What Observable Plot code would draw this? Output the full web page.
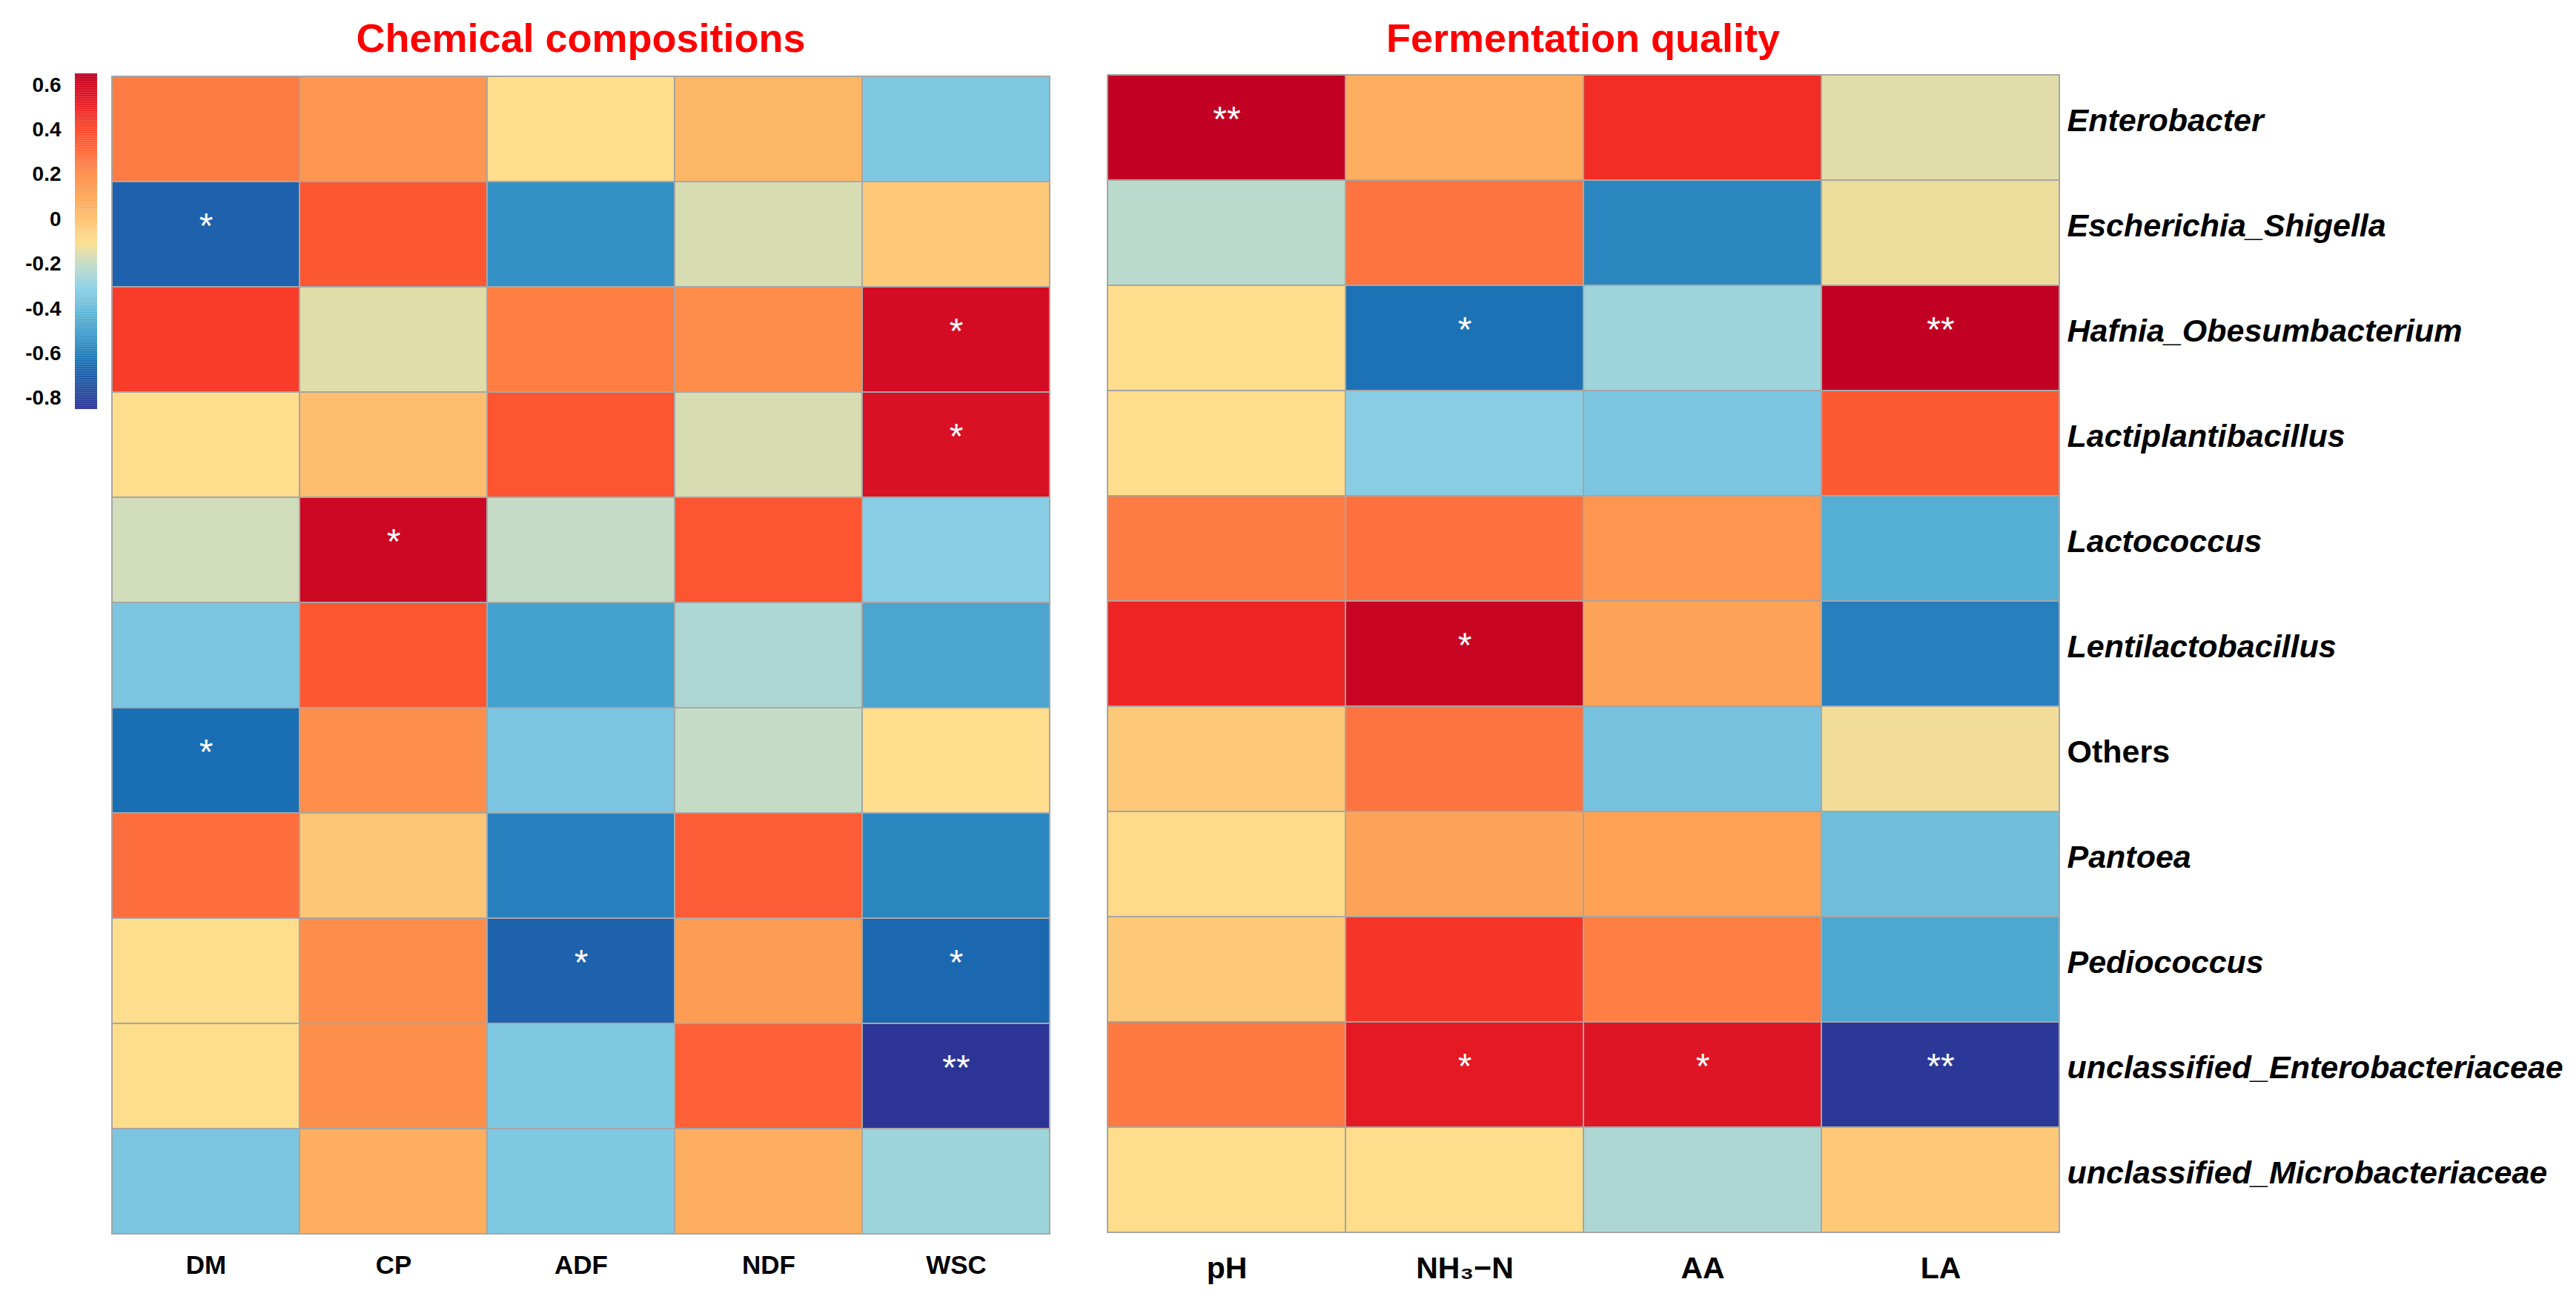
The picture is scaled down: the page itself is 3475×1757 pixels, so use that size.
<!DOCTYPE html>
<html>
<head>
<meta charset="utf-8">
<script src="https://cdn.jsdelivr.net/npm/d3@7"></script>
<script src="https://cdn.jsdelivr.net/npm/@observablehq/plot@0.6"></script>
<style>
  body { margin: 0; background: #ffffff; }
  #root { position: relative; width: 3475px; height: 1757px; overflow: hidden; font-family: "Liberation Sans", Arial, sans-serif; background: #ffffff; }
  .title { position: absolute; top: 24px; font-size: 54px; line-height: 54px; font-weight: bold; color: #ff0000; text-align: center; white-space: nowrap; font-family: "Liberation Sans", Arial, sans-serif; }
  .pl { position: absolute; top: 0; }
  .pl svg { font-family: "Liberation Sans", Arial, sans-serif; }
  g[aria-label$="tick label"] text { font-weight: bold; fill: #000; }
</style>
</head>
<body>
<div id="root"></div>
<script>
// ---------- data ----------
const genera = [
  "Enterobacter", "Escherichia_Shigella", "Hafnia_Obesumbacterium", "Lactiplantibacillus",
  "Lactococcus", "Lentilactobacillus", "Others", "Pantoea", "Pediococcus",
  "unclassified_Enterobacteriaceae", "unclassified_Microbacteriaceae"
];
const chemVars = ["DM", "CP", "ADF", "NDF", "WSC"];
const fermVars = ["pH", "NH\u2083\u2212N", "AA", "LA"];

// correlation values, rows follow genera, columns follow chemVars
const chemValues = [
  [ 0.25,  0.16, -0.10,  0.04, -0.35],
  [-0.69,  0.36, -0.55, -0.165, -0.03],
  [ 0.43, -0.15,  0.24,  0.20,  0.59],
  [-0.10,  0.01,  0.37, -0.165, 0.57],
  [-0.18,  0.61, -0.20,  0.37, -0.32],
  [-0.36,  0.36, -0.50, -0.24, -0.48],
  [-0.65,  0.19, -0.36, -0.20, -0.10],
  [ 0.29, -0.02, -0.60,  0.34, -0.58],
  [-0.10,  0.20, -0.69,  0.14, -0.67],
  [-0.10,  0.19, -0.35,  0.33, -0.85],
  [-0.36,  0.07, -0.35,  0.07, -0.27]
];
const chemSig = [
  ["", "", "", "", ""],
  ["*", "", "", "", ""],
  ["", "", "", "", "*"],
  ["", "", "", "", "*"],
  ["", "*", "", "", ""],
  ["", "", "", "", ""],
  ["*", "", "", "", ""],
  ["", "", "", "", ""],
  ["", "", "*", "", "*"],
  ["", "", "", "", "**"],
  ["", "", "", "", ""]
];
// rows follow genera, columns follow fermVars
const fermValues = [
  [ 0.65,  0.07,  0.47, -0.15],
  [-0.22,  0.27, -0.58, -0.13],
  [-0.10, -0.64, -0.27,  0.65],
  [-0.10, -0.32, -0.36,  0.35],
  [ 0.25,  0.28,  0.16, -0.45],
  [ 0.49,  0.63,  0.11, -0.60],
  [-0.03,  0.27, -0.37, -0.12],
  [-0.09,  0.11,  0.12, -0.39],
  [-0.03,  0.45,  0.24, -0.47],
  [ 0.26,  0.53,  0.55, -0.84],
  [-0.10, -0.10, -0.24, -0.03]
];
const fermSig = [
  ["**", "", "", ""],
  ["", "", "", ""],
  ["", "*", "", "**"],
  ["", "", "", ""],
  ["", "", "", ""],
  ["", "*", "", ""],
  ["", "", "", ""],
  ["", "", "", ""],
  ["", "", "", ""],
  ["", "*", "*", "**"],
  ["", "", "", ""]
];
const legendTicks = [0.6, 0.4, 0.2, 0, -0.2, -0.4, -0.6, -0.8];
const colorStops = [-0.85, -0.75, -0.65, -0.55, -0.45, -0.35, -0.3, -0.2, -0.1, 0.0, 0.1, 0.2, 0.3, 0.4, 0.5, 0.6, 0.65];
const colorRange = ["#2c3596", "#2450a2", "#1a6eb4", "#3391c5", "#55aed3", "#7fc8e2", "#8ed0e6", "#c4dcc6",
                    "#fedd8c", "#fdc070", "#fda658", "#fe8c4a", "#fe6a3c", "#fc4a2c", "#ec2024", "#d00a24", "#c20023"];

// ---------- build ----------
const colorOpts = {type: "linear", domain: colorStops, range: colorRange, interpolate: d3.interpolateRgb, clamp: true};
const chemData = genera.flatMap((g, i) => chemVars.map((v, j) => ({genus: g, v, value: chemValues[i][j], sig: chemSig[i][j]})));
const fermData = genera.flatMap((g, i) => fermVars.map((v, j) => ({genus: g, v, value: fermValues[i][j], sig: fermSig[i][j]})));

const root = document.getElementById("root");
function place(el, left) {
  const d = document.createElement("div");
  d.className = "pl";
  d.style.left = left + "px";
  d.appendChild(el);
  root.appendChild(d);
}

const starOpts = {text: "sig", fill: "white", fontSize: 48, fontWeight: "normal", dy: -11};

const leftChart = Plot.plot({
  width: 1450, height: 1757,
  marginLeft: 151, marginRight: 34, marginTop: 99, marginBottom: 88,
  style: {background: "transparent"},
  x: {domain: chemVars, padding: 0, label: null},
  y: {domain: genera, padding: 0, label: null, axis: null},
  color: colorOpts,
  marks: [
    Plot.cell(chemData, {x: "v", y: "genus", fill: "value", stroke: "#a6a6a6", strokeWidth: 2, inset: 0}),
    Plot.text(chemData.filter(d => d.sig), {x: "v", y: "genus", ...starOpts}),
    Plot.axisX({anchor: "bottom", tickSize: 0, tickPadding: 25, fontSize: 35, fontWeight: "bold", label: null})
  ]
});
place(leftChart, 0);

const rightChart = Plot.plot({
  width: 2015, height: 1757,
  marginLeft: 33, marginRight: 697, marginTop: 96, marginBottom: 89,
  style: {background: "transparent"},
  x: {domain: fermVars, padding: 0, label: null},
  y: {domain: genera, padding: 0, label: null, axis: null},
  color: colorOpts,
  marks: [
    Plot.cell(fermData, {x: "v", y: "genus", fill: "value", stroke: "#a6a6a6", strokeWidth: 2, inset: 0}),
    Plot.text(fermData.filter(d => d.sig), {x: "v", y: "genus", ...starOpts}),
    Plot.axisX({anchor: "bottom", tickSize: 0, tickPadding: 27, fontSize: 41, fontWeight: "bold", label: null}),
    Plot.text(genera.filter(g => g !== "Others"), {y: d => d, text: d => d, frameAnchor: "right", textAnchor: "start", dx: 10, dy: -9, fontSize: 43, fontWeight: "bold", fontStyle: "italic", fill: "#000"}),
    Plot.text(genera.filter(g => g === "Others"), {y: d => d, text: d => d, frameAnchor: "right", textAnchor: "start", dx: 10, dy: -9, fontSize: 43, fontWeight: "bold", fill: "#000"})
  ]
});
place(rightChart, 1460);

// colour key
const steps = d3.range(0, 301).map(i => -0.85 + i * 0.005);
const legendChart = Plot.plot({
  width: 140, height: 600,
  marginLeft: 101, marginRight: 9, marginTop: 99, marginBottom: 48,
  style: {background: "transparent"},
  x: {domain: [0, 1], axis: null},
  y: {domain: [-0.85, 0.65], axis: null},
  color: colorOpts,
  marks: [
    Plot.rect(steps.slice(0, -1), {x1: 0, x2: 1, y1: d => d, y2: d => Math.min(0.65, d + 0.0056), fill: d => d + 0.0025}),
    Plot.axisY({ticks: legendTicks, tickSize: 0, tickPadding: 19, fontSize: 28, fontWeight: "bold", label: null,
      tickFormat: d => d === 0 ? "0" : String(d)})
  ]
});
place(legendChart, 0);

// titles
function title(text, left, width) {
  const t = document.createElement("div");
  t.className = "title";
  t.style.left = left + "px";
  t.style.width = width + "px";
  t.textContent = text;
  root.appendChild(t);
}
title("Chemical compositions", 151, 1265);
title("Fermentation quality", 1493, 1285);
</script>
</body>
</html>
